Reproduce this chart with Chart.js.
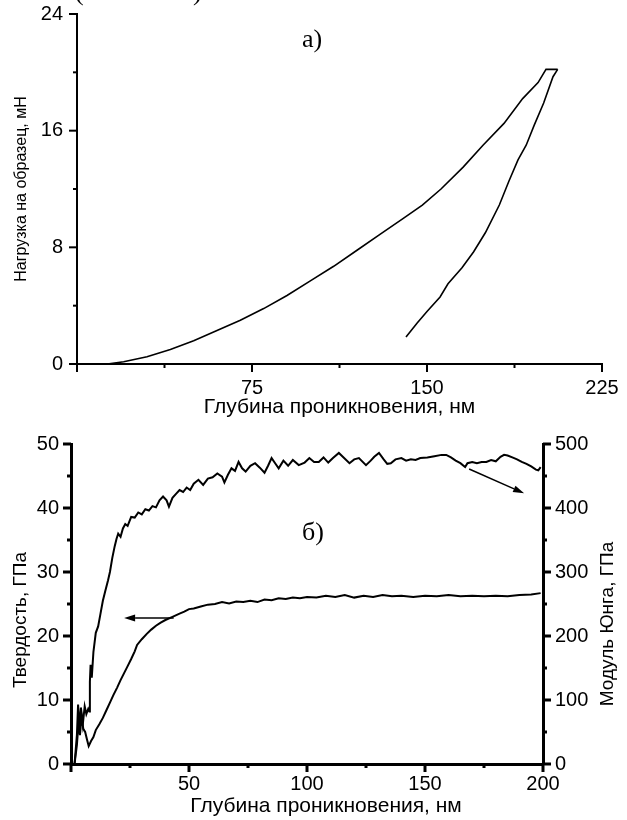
<!DOCTYPE html>
<html>
<head>
<meta charset="utf-8">
<script src="https://cdn.jsdelivr.net/npm/chart.js@4.4.1/dist/chart.umd.min.js"></script>
<style>
  body { margin: 0; background: #fff; width: 627px; height: 820px; position: relative; overflow: hidden; }
  canvas { position: absolute; left: 0; }
  #chartA { top: 0; }
  #chartB { top: 420px; }
</style>
</head>
<body>
<canvas id="chartA" width="627" height="420"></canvas>
<canvas id="chartB" width="627" height="400"></canvas>
<script>
// --- a) load vs depth ---
const loadDepth = [13, 20, 30, 40, 50, 60, 70, 80, 90, 100, 110, 120, 130, 140, 148, 156, 165.5, 174, 183, 191, 197.6, 201, 206];
const loadForce = [0, 0.15, 0.5, 1.0, 1.6, 2.3, 3.0, 3.8, 4.7, 5.7, 6.7, 7.8, 8.9, 10.0, 10.9, 12.0, 13.5, 15.0, 16.5, 18.2, 19.3, 20.2, 20.2];
const unloadDepth = [206, 204, 200, 196, 192.5, 189, 185, 181, 175, 170, 165, 159, 155.6, 150, 145.7, 141];
const unloadForce = [20.2, 19.7, 17.9, 16.4, 15.0, 14.0, 12.5, 10.9, 9.0, 7.7, 6.6, 5.5, 4.6, 3.6, 2.8, 1.85];
const xLabelsA = [75, 150, 225];
const yLabelsA = [0, 8, 16, 24];

// --- б) hardness and Young's modulus vs depth ---
const depthH = [1.5, 2.5, 3.2, 3.8, 4.5, 5.2, 6, 6.8, 7.5, 8.5, 9.5, 10.5, 12, 13.5, 15, 16.5, 18, 19.5, 21, 22.5, 24, 25.5, 27, 28, 30, 32, 34, 36, 38, 40, 43, 46, 48, 50, 52, 55, 58, 61, 64, 67, 70, 73, 76, 79, 82, 85, 88, 91, 94, 97, 100, 104, 108, 112, 116, 120, 124, 128, 132, 136, 140, 145, 150, 155, 160, 165, 170, 175, 180, 185, 190, 195, 199];
const hardness = [0, 3, 6.5, 4.5, 7.5, 5.5, 5, 3.8, 2.8, 3.6, 4.2, 5.3, 6.2, 7.2, 8.4, 9.6, 10.8, 11.9, 13.1, 14.2, 15.3, 16.4, 17.6, 18.6, 19.5, 20.3, 21.0, 21.6, 22.1, 22.5, 23.0, 23.5, 23.8, 24.2, 24.3, 24.6, 24.9, 25.0, 25.3, 25.1, 25.4, 25.3, 25.5, 25.3, 25.7, 25.6, 25.9, 25.8, 26.0, 25.9, 26.1, 26.0, 26.3, 26.1, 26.4, 26.0, 26.3, 26.1, 26.4, 26.2, 26.3, 26.1, 26.3, 26.2, 26.4, 26.2, 26.3, 26.2, 26.3, 26.2, 26.4, 26.5, 26.7];
const depthE = [1.5, 2.5, 3, 3.6, 4.2, 5, 5.8, 6.5, 7.3, 7.8, 8, 8.3, 8.8, 9.5, 10.5, 11.5, 12.5, 13.5, 14.5, 15.7, 16.5, 17.5, 18.5, 19.3, 20, 21, 22, 23, 24, 25.5, 27, 28.5, 30, 31.5, 33, 34.5, 36, 37.5, 39, 40.5, 41.5, 43, 44.5, 46, 47.5, 49, 50.5, 52, 54, 56, 58, 60, 62, 64, 65, 66.5, 68, 69.5, 71, 72.5, 74, 76, 78, 80, 82, 83.5, 85, 86.5, 88, 90, 92, 94, 96.5, 99, 101, 103, 105, 107, 109, 111, 113.5, 115.5, 118, 120, 122, 125, 127, 128.5, 130.5, 132.5, 134, 135.5, 137.5, 140, 142, 144, 146, 148, 151, 154, 157, 159, 161, 163, 165, 167, 168, 170, 172, 174, 176, 178, 180, 182, 183.5, 185, 187, 189, 191, 193, 195, 197, 198, 199];
const modulus = [0, 45, 93, 55, 88, 62, 90, 78, 86, 82, 128, 155, 135, 175, 205, 215, 235, 255, 270, 287, 300, 322, 340, 352, 360, 355, 368, 375, 372, 386, 385, 393, 390, 398, 396, 403, 401, 412, 418, 412, 402, 416, 422, 428, 425, 432, 428, 438, 444, 436, 446, 448, 454, 449, 440, 452, 462, 458, 472, 462, 457, 466, 470, 463, 455, 466, 478, 470, 462, 474, 466, 475, 467, 471, 478, 472, 472, 479, 471, 478, 486, 479, 470, 476, 478, 467, 474, 480, 486, 476, 469, 470, 476, 478, 474, 476, 475, 478, 479, 481, 483, 483, 479, 474, 470, 464, 470, 472, 470, 472, 472, 475, 473, 480, 483, 482, 479, 476, 472, 469, 465, 460, 459, 464];
const xLabelsB = [50, 100, 150, 200];
const yLabelsB = [0, 10, 20, 30, 40, 50];
const y2LabelsB = [0, 100, 200, 300, 400, 500];
// arrows: [x, y] tail -> head, y on given axis
const arrowsB = [
  { axis: 'y', from: [43.5, 22.8], to: [22.5, 22.8] },
  { axis: 'y2', from: [168.7, 461], to: [192, 423] }
];

const toPts = (xs, ys) => xs.map((x, i) => ({ x: x, y: ys[i] }));
const sans = '"Liberation Sans", Arial, sans-serif';
const serif = '"Liberation Serif", "Times New Roman", serif';

const tickMarks = {
  id: 'tickMarks',
  afterDraw(chart, args, opts) {
    const ctx = chart.ctx;
    ctx.save();
    ctx.strokeStyle = '#000';
    ctx.lineWidth = opts.width;
    Object.keys(chart.scales).forEach(id => {
      const s = chart.scales[id];
      const step = opts.major[id];
      s.ticks.forEach(t => {
        const v = t.value;
        const isMajor = Math.abs(v / step - Math.round(v / step)) < 1e-6;
        const len = isMajor ? opts.long : opts.short;
        const p = s.getPixelForValue(v);
        ctx.beginPath();
        if (s.isHorizontal()) { ctx.moveTo(p, s.top); ctx.lineTo(p, s.top + len); }
        else if (s.position === 'left') { ctx.moveTo(s.right, p); ctx.lineTo(s.right - len, p); }
        else { ctx.moveTo(s.left, p); ctx.lineTo(s.left + len, p); }
        ctx.stroke();
      });
    });
    ctx.restore();
  }
};

const extraText = {
  id: 'extraText',
  afterDraw(chart, args, opts) {
    const ctx = chart.ctx;
    opts.items.forEach(it => {
      ctx.save();
      ctx.fillStyle = '#000';
      ctx.font = it.font;
      ctx.textAlign = it.align || 'left';
      ctx.textBaseline = it.baseline || 'alphabetic';
      ctx.translate(it.x, it.y);
      if (it.rotate) ctx.rotate(it.rotate);
      ctx.fillText(it.text, 0, 0);
      ctx.restore();
    });
  }
};

const arrowPlugin = {
  id: 'arrows',
  afterDatasetsDraw(chart) {
    const ctx = chart.ctx;
    const sx = chart.scales.x;
    ctx.save();
    ctx.strokeStyle = '#000';
    ctx.fillStyle = '#000';
    ctx.lineWidth = 1.5;
    arrowsB.forEach(a => {
      const sy = chart.scales[a.axis];
      const x1 = sx.getPixelForValue(a.from[0]), y1 = sy.getPixelForValue(a.from[1]);
      const x2 = sx.getPixelForValue(a.to[0]), y2 = sy.getPixelForValue(a.to[1]);
      const ang = Math.atan2(y2 - y1, x2 - x1);
      const hl = 11, hw = 3.5;
      ctx.beginPath();
      ctx.moveTo(x1, y1);
      ctx.lineTo(x2 - hl * Math.cos(ang), y2 - hl * Math.sin(ang));
      ctx.stroke();
      ctx.beginPath();
      ctx.moveTo(x2, y2);
      ctx.lineTo(x2 - hl * Math.cos(ang) + hw * Math.sin(ang), y2 - hl * Math.sin(ang) - hw * Math.cos(ang));
      ctx.lineTo(x2 - hl * Math.cos(ang) - hw * Math.sin(ang), y2 - hl * Math.sin(ang) + hw * Math.cos(ang));
      ctx.closePath();
      ctx.fill();
    });
    ctx.restore();
  }
};

function fixBox(size) {
  return s => {
    if (s.isHorizontal()) s.height = size; else s.width = size;
    s.paddingLeft = 0; s.paddingRight = 0; s.paddingTop = 0; s.paddingBottom = 0;
  };
}

function labelCb(list) {
  return v => (list.indexOf(v) >= 0 ? String(v) : '');
}

const lineStyle = (w) => ({ borderColor: '#000', borderWidth: w, pointRadius: 0, tension: 0, fill: false });

new Chart(document.getElementById('chartA'), {
  type: 'line',
  data: {
    datasets: [
      Object.assign({ label: 'load', data: toPts(loadDepth, loadForce) }, lineStyle(1.6)),
      Object.assign({ label: 'unload', data: toPts(unloadDepth, unloadForce) }, lineStyle(1.6))
    ]
  },
  options: {
    responsive: false,
    animation: false,
    layout: { padding: { top: 14, right: 25, left: 0, bottom: 0 } },
    plugins: {
      legend: { display: false },
      tooltip: { enabled: false },
      tickMarks: { width: 2, long: 8, short: 4, major: { x: 75, y: 8 } },
      extraText: { items: [
        { text: 'а)', x: 302, y: 47, font: '26px ' + serif },
        { text: '(', x: 75, y: 0, font: '26px ' + serif },
        { text: ')', x: 193, y: 0, font: '26px ' + serif }
      ] }
    },
    scales: {
      x: {
        type: 'linear', min: 0, max: 225,
        afterFit: fixBox(56),
        border: { display: true, color: '#000', width: 2 },
        grid: { display: true, drawOnChartArea: false, color: 'transparent', tickLength: 8 },
        ticks: { stepSize: 37.5, autoSkip: false, maxRotation: 0, padding: 4, color: '#000',
                 font: { family: sans, size: 20 }, callback: labelCb(xLabelsA) },
        title: { display: true, text: 'Глубина проникновения, нм', color: '#000',
                 font: { family: sans, size: 21 }, padding: { top: 0, bottom: 0 } }
      },
      y: {
        type: 'linear', min: 0, max: 24,
        afterFit: fixBox(77),
        border: { display: true, color: '#000', width: 2 },
        grid: { display: true, drawOnChartArea: false, color: 'transparent', tickLength: 9 },
        ticks: { stepSize: 4, autoSkip: false, padding: 5, color: '#000',
                 font: { family: sans, size: 20 }, callback: labelCb(yLabelsA) },
        title: { display: true, text: 'Нагрузка на образец, мН', color: '#000',
                 font: { family: sans, size: 16 }, padding: { top: 12, bottom: 0 } }
      }
    }
  },
  plugins: [tickMarks, extraText]
});

new Chart(document.getElementById('chartB'), {
  type: 'line',
  data: {
    datasets: [
      Object.assign({ label: 'hardness', yAxisID: 'y', data: toPts(depthH, hardness) }, lineStyle(2)),
      Object.assign({ label: 'modulus', yAxisID: 'y2', data: toPts(depthE, modulus) }, lineStyle(2))
    ]
  },
  options: {
    responsive: false,
    animation: false,
    layout: { padding: { top: 24, right: 0, left: 0, bottom: 0 } },
    plugins: {
      legend: { display: false },
      tooltip: { enabled: false },
      tickMarks: { width: 3, long: 8, short: 4, major: { x: 50, y: 10, y2: 100 } },
      extraText: { items: [
        { text: 'б)', x: 302, y: 120, font: '26px ' + serif },
        { text: 'Глубина проникновения, нм', x: 326, y: 386, font: '21px ' + sans,
          align: 'center', baseline: 'middle' },
        { text: 'Твердость, ГПа', x: 21, y: 200, font: '19px ' + sans,
          align: 'center', baseline: 'middle', rotate: -Math.PI / 2 },
        { text: 'Модуль Юнга, ГПа', x: 608, y: 204, font: '19px ' + sans,
          align: 'center', baseline: 'middle', rotate: -Math.PI / 2 }
      ] }
    },
    scales: {
      x: {
        type: 'linear', min: 0, max: 200,
        afterFit: fixBox(56),
        border: { display: true, color: '#000', width: 3 },
        grid: { display: true, drawOnChartArea: false, color: 'transparent', tickLength: 8 },
        ticks: { stepSize: 25, autoSkip: false, maxRotation: 0, padding: 0, color: '#000',
                 font: { family: sans, size: 20 }, callback: labelCb(xLabelsB) }
      },
      y: {
        type: 'linear', position: 'left', min: 0, max: 50,
        afterFit: fixBox(71),
        border: { display: true, color: '#000', width: 3 },
        grid: { display: true, drawOnChartArea: false, color: 'transparent', tickLength: 8 },
        ticks: { stepSize: 5, autoSkip: false, padding: 4, color: '#000',
                 font: { family: sans, size: 20 }, callback: labelCb(yLabelsB) }
      },
      y2: {
        type: 'linear', position: 'right', min: 0, max: 500,
        afterFit: fixBox(84),
        border: { display: true, color: '#000', width: 3 },
        grid: { display: true, drawOnChartArea: false, color: 'transparent', tickLength: 8 },
        ticks: { stepSize: 50, autoSkip: false, padding: 4, color: '#000',
                 font: { family: sans, size: 20 }, callback: labelCb(y2LabelsB) }
      }
    }
  },
  plugins: [tickMarks, extraText, arrowPlugin]
});
</script>
</body>
</html>
